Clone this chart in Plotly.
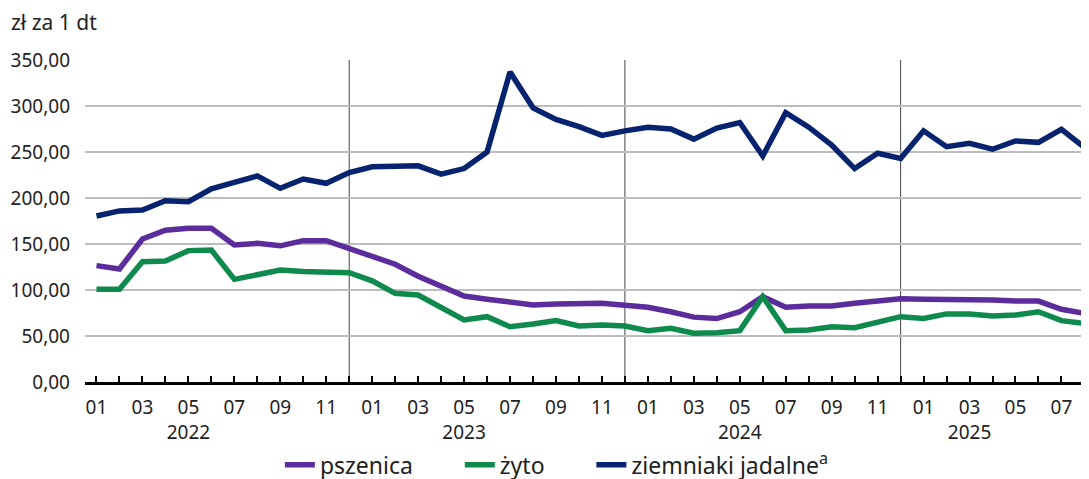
import plotly.graph_objects as go

# months Jan 2022 - Aug 2025
years = [2022] * 12 + [2023] * 12 + [2024] * 12 + [2025] * 8
months = list(range(1, 13)) * 3 + list(range(1, 9))

pszenica = [126.5, 122.8, 155.4, 165.0, 167.0, 167.0, 149.0, 150.7, 148.0, 153.6, 153.6, 145.5,
            137.0, 128.0, 115.0, 105.0, 93.5, 90.0, 87.0, 83.7, 84.8, 84.8, 85.5, 83.4,
            81.2, 76.4, 70.5, 69.0, 76.4, 92.7, 81.2, 82.6, 82.6, 85.5, 88.4, 90.6,
            90.0, 90.0, 89.0, 89.0, 88.0, 88.0, 79.0, 74.7]
zyto = [100.7, 100.7, 130.8, 131.5, 142.8, 143.5, 111.6, 116.3, 121.7, 120.0, 120.0, 118.8,
        110.0, 96.4, 94.6, 81.0, 67.4, 71.0, 60.0, 63.0, 66.7, 60.9, 62.0, 60.9,
        55.8, 58.3, 53.0, 53.6, 55.8, 92.7, 55.8, 56.5, 60.0, 59.0, 64.5, 71.0,
        69.0, 74.0, 74.0, 71.7, 72.8, 76.4, 66.7, 63.8]
ziemniaki = [180.4, 186.0, 187.0, 197.0, 196.0, 210.0, 217.0, 224.0, 210.5, 220.6, 216.0, 227.6,
             234.0, 234.0, 235.0, 226.0, 232.0, 250.0, 337.0, 298.0, 285.5, 277.5, 268.0, 273.0,
             277.0, 275.0, 264.0, 276.0, 282.0, 245.7, 292.7, 277.0, 257.6, 232.0, 248.6, 243.0,
             273.0, 255.8, 259.4, 253.0, 262.0, 260.5, 274.6, 255.0]

x = list(range(len(months)))

# tick labels: odd months, year under the middle month of each year
year_label_month = {2022: 5, 2023: 5, 2024: 5, 2025: 3}
ticktext = []
for y, m in zip(years, months):
    if m % 2 == 1:
        t = '%02d' % m
        if year_label_month[y] == m:
            t += '<br>' + str(y)
        ticktext.append(t)
    else:
        ticktext.append('')

nb = '\u00a0'  # padding between legend entries
fig = go.Figure()
fig.add_trace(go.Scatter(x=x, y=pszenica, mode='lines', name='pszenica' + nb * 7,
                         line=dict(color='#5b2c9c', width=5.5)))
fig.add_trace(go.Scatter(x=x, y=zyto, mode='lines', name='żyto' + nb * 7,
                         line=dict(color='#0e8a4c', width=5.5)))
fig.add_trace(go.Scatter(x=x, y=ziemniaki, mode='lines', name='ziemniaki jadalne<sup>a</sup>',
                         line=dict(color='#05236e', width=5.5)))

# year separators at each December
for xi, m in zip(x, months):
    if m == 12:
        fig.add_shape(type='line', x0=xi, x1=xi, y0=0, y1=350, xref='x', yref='y',
                      line=dict(color='#444444', width=1), layer='below')

# page body has an 8px margin, so margins are shifted by 8px
fig.update_layout(
    width=1089, height=490,
    margin=dict(l=77, r=8, t=52, b=116),
    plot_bgcolor='white', paper_bgcolor='white',
    separators=', ',
    font=dict(family='Noto Sans', size=19, color='#222222'),
    showlegend=True,
    legend=dict(orientation='h', x=0.47, xanchor='center', y=-0.19, yanchor='top',
                font=dict(size=23), traceorder='normal'),
    xaxis=dict(range=[-0.5, 43.2], tickmode='array', tickvals=x, ticktext=ticktext,
               ticks='inside', ticklen=6, tickwidth=2, tickcolor='black',
               showline=True, linecolor='black', linewidth=3, showgrid=False,
               zeroline=False, ticklabelstandoff=6, tickangle=0, automargin=False),
    yaxis=dict(range=[0, 350], tickvals=[0, 50, 100, 150, 200, 250, 300, 350],
               tickformat='.2f', showgrid=True, gridcolor='#bdbdbd', gridwidth=1.5,
               zeroline=False, showline=False, ticks='', ticklabelstandoff=14,
               automargin=False),
    annotations=[dict(text='zł za 1 dt', xref='paper', yref='paper', x=-0.076, y=1.118,
                      xanchor='left', yanchor='middle', showarrow=False,
                      font=dict(size=21, color='#222222'))],
)

fig.write_html("out.html")
